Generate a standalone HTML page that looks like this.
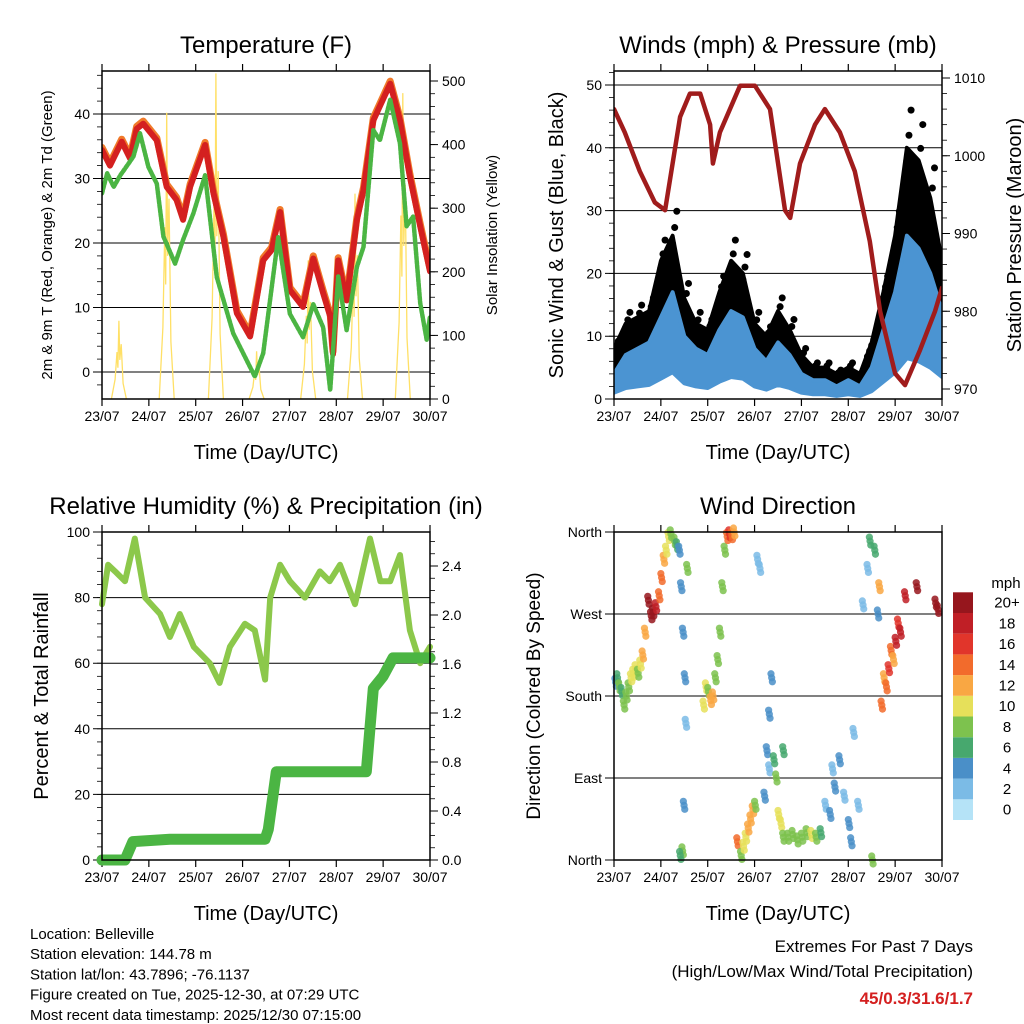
<!DOCTYPE html>
<html><head><meta charset="utf-8">
<style>
body{margin:0;background:#fff;}
svg{display:block;font-family:"Liberation Sans",Arial,sans-serif;}
</style></head>
<body>
<svg id="c" width="1024" height="1024" viewBox="0 0 1024 1024"></svg>
<script>
// ---------- DATA ----------
const dayLabels = ["23/07","24/07","25/07","26/07","27/07","28/07","29/07","30/07"];
// Temperature (F)
const tempTimes = [0,0.17,0.42,0.60,0.74,0.88,1.17,1.38,1.59,1.73,1.88,2.20,2.38,2.59,2.88,3.16,3.44,3.62,3.80,4.01,4.29,4.51,4.72,4.87,4.93,5.04,5.22,5.44,5.58,5.79,6.15,6.36,6.57,6.79,7.0];
const tempVals  = [34.4,32,35.7,33.1,37.7,38.5,35.9,28.7,26.7,23.6,28.7,35.2,27.7,21,9.1,5.5,17.3,18.9,24.8,12.7,10.1,17.6,12.2,8.6,2.8,17.3,11.1,23.6,28.2,39,44.7,39,30.3,22.6,15.6];
const dewTimes = [0,0.11,0.25,0.39,0.67,0.81,0.99,1.17,1.31,1.56,1.73,1.95,2.20,2.45,2.80,3.26,3.44,3.76,4.01,4.29,4.51,4.72,4.87,5.04,5.22,5.44,5.58,5.79,5.93,6.15,6.36,6.50,6.64,6.79,6.93,7.0];
const dewVals  = [27.7,30.8,28.7,30.5,33.4,37,31.8,29.2,21,16.8,20.5,24.6,30.5,14.7,6,-0.7,2.9,20.9,9,5.4,10.5,6.9,-2.8,14.8,6.5,16.3,19.4,37.5,35.9,42.2,35.4,22.6,24.1,10.7,5,8.6];
const solarPeakTimes = [0.36,1.38,2.43,3.30,4.40,5.40,6.42];
const solarPeakVals  = [123,450,512,75,218,323,481];
// Winds (mph) & pressure (mb)
const windTimes = [0,0.25,0.5,0.75,1,1.25,1.5,1.75,2,2.25,2.5,2.75,3,3.25,3.5,3.75,4,4.25,4.5,4.75,5,5.25,5.5,5.75,6,6.25,6.5,6.75,7];
const gustVals  = [8,12,13,14,22,26,16,12,11,17,22,20,12,10,14,11,7,5,5,4,5,4,9,17,26,40,38,32,22];
const sonicVals = [4,7,8,9,13,17,10,8,7,11,14,13,8,6,9,7,4,3,3,2,3,2,5,11,17,26,24,20,14];
const presTimes = [0,0.23,0.55,0.87,1.09,1.41,1.62,1.84,2.05,2.11,2.26,2.69,3.01,3.33,3.65,3.76,3.97,4.29,4.5,4.82,5.14,5.46,5.68,6.0,6.21,6.53,6.85,7.0];
const presVals  = [1006,1003,998,994,993,1005,1008,1008,1004,999,1003,1009,1009,1006,993,992,999,1004,1006,1003,998,989,980,972,970.5,975,980,983];
// RH (%) & precipitation (in)
const rhTimes = [0,0.13,0.28,0.49,0.70,0.92,1.24,1.45,1.66,1.96,2.30,2.51,2.73,3.05,3.26,3.48,3.59,3.80,4.01,4.33,4.65,4.86,5.08,5.40,5.72,5.94,6.15,6.36,6.57,6.79,7.0];
const rhVals  = [78,90,88,85,98,80,75,68,75,65,60,54,65,72,70,55,80,90,85,80,88,85,90,78,98,85,85,93,70,60,65];
const rainTimes = [0,0.49,0.66,1.45,3.48,3.55,3.72,5.64,5.79,6.0,6.21,7.0];
const rainVals  = [0,0,0.15,0.17,0.17,0.25,0.72,0.72,1.4,1.5,1.65,1.65];
// Wind direction: time (days), direction (deg), speed (mph)
const dirTimes = [0.02,0.06,0.1,0.15,0.2,0.25,0.3,0.35,0.4,0.45,0.5,0.55,0.6,0.65,0.72,0.78,0.82,0.88,0.95,1.0,1.05,1.1,1.15,1.2,1.28,1.33,1.38,1.42,1.46,1.5,1.52,1.55,1.45,1.4,1.48,1.9,1.95,2.0,2.05,2.1,2.15,2.2,2.25,2.3,2.35,2.4,2.45,2.5,2.55,2.62,2.7,2.75,2.8,2.85,2.9,2.95,3.0,3.05,3.1,3.2,3.25,3.3,3.35,3.3,3.4,3.45,3.5,3.55,3.6,3.6,3.7,3.8,3.9,4.0,4.1,4.2,4.3,4.4,4.5,4.6,4.65,4.7,4.8,4.9,5.0,5.05,5.1,5.2,5.3,5.4,5.45,5.5,5.55,5.62,5.65,5.7,5.75,5.8,5.85,5.9,5.95,6.0,6.05,6.1,6.2,6.45,6.85,6.9];
const dirVals  = [195,200,190,185,170,180,190,200,205,210,205,215,225,250,285,268,272,278,290,310,330,340,355,358,350,345,340,300,250,200,150,320,10,5,60,170,190,185,175,180,200,220,250,300,340,355,358,356,360,20,5,15,25,35,45,55,60,330,320,70,120,160,200,100,110,90,50,40,25,120,25,28,22,25,30,28,25,30,60,50,100,80,110,70,40,20,140,60,280,320,350,0,340,270,300,170,200,190,210,230,220,240,260,250,290,300,282,275];
const dirSpeeds= [4,6,7,6,8,7,8,9,9,10,8,9,11,12,19,20,21,18,14,13,11,9,9,8,7,6,4,3,3,3,2,8,7,6,3,10,9,8,12,11,8,7,7,7,8,14,16,13,12,13,8,9,10,11,12,11,7,1,1,3,4,4,3,2,5,7,9,10,8,5,8,7,8,7,8,9,7,6,2,3,2,3,4,2,3,4,1,2,1,1,6,7,5,4,12,14,12,14,16,13,11,17,16,18,17,20,21,20];
const cbLabels = ["0","2","4","6","8","10","12","14","16","18","20+"];
const cbColors = ["#b5e3f7","#7bbbe6","#4a8fc8","#47a86e","#7dc24e","#e6e05a","#f9a743","#f26b2c","#e1352b","#c01f26","#96161d"];

// ---------- HELPERS ----------
const NS="http://www.w3.org/2000/svg";
const svg=document.getElementById('c');
function mk(tag,attrs,parent){const e=document.createElementNS(NS,tag);for(const k in attrs)e.setAttribute(k,attrs[k]);(parent||svg).appendChild(e);return e;}
function txt(x,y,s,size,anchor,extra){const t=mk('text',Object.assign({x:x,y:y,'font-size':size,'text-anchor':anchor||'middle',fill:'#000'},extra||{}));t.textContent=s;return t;}
function lin(d0,d1,r0,r1){return v=>r0+(v-d0)/(d1-d0)*(r1-r0);}

function panel(x0,y0,x1,y1,title,name){
  const g=mk('g',{});
  
  
  const t=txt((x0+x1)/2,y0-18,title,24,'middle');
  
  
  const xs=lin(0,7,x0,x1);
  for(let i=0;i<8;i++){
    const x=xs(i);
    mk('line',{x1:x,y1:y1,x2:x,y2:y1+7,stroke:'#000','stroke-width':1.2});
    mk('line',{x1:x,y1:y0,x2:x,y2:y0-7,stroke:'#000','stroke-width':1.2});
    const l=txt(x,y1+22,dayLabels[i],14,'middle');
    
    
  }
  const xt=txt((x0+x1)/2,y1+60,'Time (Day/UTC)',20,'middle');
  
  
  return xs;
}
function box(x0,y0,x1,y1){mk('rect',{x:x0,y:y0,width:x1-x0,height:y1-y0,fill:'none',stroke:'#000','stroke-width':1.5});}
function hgrid(ys,vals,x0,x1,labels){
  vals.forEach((v,i)=>{
    const y=ys(v);
    mk('line',{x1:x0-9,y1:y,x2:x1,y2:y,stroke:'#000','stroke-width':1});
    if(labels){const l=txt(x0-12,y+5,labels[i],14,'end');
      
      }
  });
}
function rticks(ys,vals,labels,x1){
  vals.forEach((v,i)=>{const y=ys(v);
    mk('line',{x1:x1,y1:y,x2:x1+8,y2:y,stroke:'#000','stroke-width':1});
    const l=txt(x1+12,y+5,labels[i],14,'start');
    
    });
}
function minor(ys,from,to,step,x,len){for(let v=from;v<=to+1e-9;v+=step){const y=ys(v);mk('line',{x1:x,y1:y,x2:x+len,y2:y,stroke:'#000','stroke-width':0.8});}}
function poly(xs,ys,T,V,color,w,name,dash){
  const p=T.map((t,i)=>xs(t).toFixed(1)+','+ys(V[i]).toFixed(1)).join(' ');
  const e=mk('polyline',{points:p,fill:'none',stroke:color,'stroke-width':w,'stroke-linejoin':'round','stroke-linecap':'round'});
  if(dash)e.setAttribute('stroke-dasharray',dash);
  
  
  return e;
}
function band(xs,ys,T,lo,hi,color,name){
  const top=T.map((t,i)=>xs(t).toFixed(1)+','+ys(hi[i]).toFixed(1));
  const bot=T.map((t,i)=>xs(t).toFixed(1)+','+ys(lo[i]).toFixed(1)).reverse();
  const e=mk('polygon',{points:top.concat(bot).join(' '),fill:color,stroke:color,'stroke-width':4,'stroke-linejoin':'round'});
  
  
  return e;
}
function vtitle(x,y,s,size,name){const t=txt(x,y,s,size,'middle',{transform:`rotate(-90 ${x} ${y})`});
  }

// ---------- PANEL 1: TEMPERATURE ----------
(function(){
  const x0=102,y0=71,x1=430,y1=399;
  const xs=panel(x0,y0,x1,y1,'Temperature (F)','temperature-panel');
  const ys=lin(0,40,372,114), ys2=lin(0,500,399,81);
  const cpE=mk('clipPath',{id:'cp1'});
  mk('rect',{x:x0,y:y0,width:x1-x0,height:y1-y0},cpE);
  hgrid(ys,[0,10,20,30,40],x0,x1,["0","10","20","30","40"]);
  minor(ys,-2,46,2,x0,-5);
  rticks(ys2,[0,100,200,300,400,500],["0","100","200","300","400","500"],x1);
  minor(ys2,20,500,20,x1,5);
  const g=mk('g',{'clip-path':'url(#cp1)'});
  solarPeakTimes.forEach((t,i)=>{
    const v=solarPeakVals[i];
    const pts=[[t-0.16,0],[t-0.08,v*0.25],[t-0.04,v*0.6],[t-0.02,v*0.4],[t,v],[t+0.02,v*0.5],[t+0.05,v*0.7],[t+0.09,v*0.2],[t+0.16,0]];
    const e=mk('polyline',{points:pts.map(p=>xs(p[0]).toFixed(1)+','+ys2(p[1]).toFixed(1)).join(' '),fill:'none',stroke:'#ffe066','stroke-width':1.3},g);
    
    
  });
  g.appendChild(poly(xs,ys,tempTimes,tempVals.map(v=>v+0.4),'#f07a2a',7,'temp-9m-line'));
  g.appendChild(poly(xs,ys,tempTimes,tempVals,'#d42020',6,'temp-2m-line'));
  g.appendChild(poly(xs,ys,dewTimes,dewVals,'#4bb543',4.5,'dewpoint-line','3 1.5'));
  box(x0,y0,x1,y1);
  vtitle(52,235,'2m & 9m T (Red, Orange) & 2m Td (Green)',15,'y-axis-title');
  vtitle(497,235,'Solar Insolation (Yellow)',15,'y2-axis-title');
})();

// ---------- PANEL 2: WINDS ----------
(function(){
  const x0=614,y0=71,x1=942,y1=399;
  const xs=panel(x0,y0,x1,y1,'Winds (mph) & Pressure (mb)','winds-panel');
  const ys=lin(0,50,399,85), ys2=lin(970,1010,389,78);
  hgrid(ys,[0,10,20,30,40,50],x0,x1,["0","10","20","30","40","50"]);
  minor(ys,0,52,2,x0,-5);
  rticks(ys2,[970,980,990,1000,1010],["970","980","990","1000","1010"],x1);
  minor(ys2,970,1010,2,x1,5);
  const cpE=mk('clipPath',{id:'cp2'});
  mk('rect',{x:x0,y:y0,width:x1-x0,height:y1-y0},cpE);
  const g=mk('g',{'clip-path':'url(#cp2)'});
  g.appendChild(band(xs,ys,windTimes,sonicVals.map(v=>v*0.5),gustVals,'#000','gust-band'));
  windTimes.forEach((t,i)=>{for(let k=0;k<5;k++){
    const c=mk('circle',{cx:xs(t+(k-2)*0.045),cy:ys(gustVals[i]*(0.75+0.1*k)),r:3.5,fill:'#000'},g);
    }});
  g.appendChild(band(xs,ys,windTimes,sonicVals.map(v=>v*0.25),sonicVals,'#4b94d2','sonic-wind-band'));
  g.appendChild(poly(xs,ys2,presTimes,presVals,'#a01c1c',4.5,'pressure-line'));
  box(x0,y0,x1,y1);
  vtitle(563,235,'Sonic Wind & Gust (Blue, Black)',20,'y-axis-title');
  vtitle(1021,235,'Station Pressure (Maroon)',20,'y2-axis-title');
})();

// ---------- PANEL 3: RH & PRECIP ----------
(function(){
  const x0=102,y0=532,x1=430,y1=860;
  const xs=panel(x0,y0,x1,y1,'Relative Humidity (%) & Precipitation (in)','humidity-panel');
  const ys=lin(0,100,860,532), ys2=lin(0,2.4,860,566);
  hgrid(ys,[0,20,40,60,80,100],x0,x1,["0","20","40","60","80","100"]);
  minor(ys,0,100,4,x0,-5);
  rticks(ys2,[0,0.4,0.8,1.2,1.6,2.0,2.4],["0.0","0.4","0.8","1.2","1.6","2.0","2.4"],x1);
  minor(ys2,0,2.6,0.1,x1,5);
  poly(xs,ys,rhTimes,rhVals,'#8cc84b',6,'relative-humidity-line');
  poly(xs,ys2,rainTimes,rainVals,'#4bb543',11,'total-rainfall-line');
  box(x0,y0,x1,y1);
  vtitle(48,696,'Percent & Total Rainfall',20,'y-axis-title');
})();

// ---------- PANEL 4: WIND DIRECTION ----------
(function(){
  const x0=614,y0=532,x1=942,y1=860;
  const xs=panel(x0,y0,x1,y1,'Wind Direction','wind-direction-panel');
  const ys=lin(0,360,860,532);
  hgrid(ys,[0,90,180,270,360],x0,x1,["North","East","South","West","North"]);
  dirTimes.forEach((t,i)=>{
    const s=dirSpeeds[i];const idx=Math.min(10,Math.max(0,Math.round(s/2)));
    for(let k=0;k<3;k++){
      const c=mk('circle',{cx:xs(t+k*0.015),cy:ys(dirVals[i])+k*4-4,r:3.6,fill:cbColors[idx],opacity:0.85});
      
      
    }
  });
  box(x0,y0,x1,y1);
  vtitle(540,696,'Direction (Colored By Speed)',19,'y-axis-title');
  const lt=txt(1006,588,'mph',15,'middle');
  
  const cy0=820,h=20.7;
  cbColors.forEach((c,i)=>{
    const r=mk('rect',{x:953,y:cy0-(i+1)*h,width:20,height:h,fill:c});
    
    const l=txt(1007,cy0-i*h-h/2+5,cbLabels[i],15,'middle');
    
  });
})();

// ---------- FOOTER TEXT ----------
["Location: Belleville","Station elevation: 144.78 m","Station lat/lon: 43.7896; -76.1137","Figure created on Tue, 2025-12-30, at 07:29 UTC","Most recent data timestamp: 2025/12/30 07:15:00"].forEach((s,i)=>{
  const t=txt(30,939+i*20.2,s,15,'start');
  
  
});
const e1=txt(973,952,'Extremes For Past 7 Days',17,'end');

const e2=txt(973,977,'(High/Low/Max Wind/Total Precipitation)',17,'end');

const e3=txt(973,1004,'45/0.3/31.6/1.7',17,'end',{fill:'#d42020','font-weight':'bold'});

</script>
</body></html>
